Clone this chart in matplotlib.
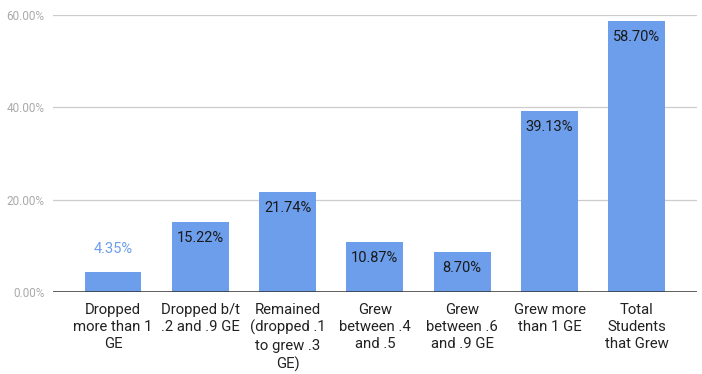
import matplotlib.pyplot as plt
from matplotlib.ticker import FuncFormatter

plt.rcParams['font.family'] = ['Roboto', 'DejaVu Sans']

categories = ["Dropped\nmore than 1\nGE",
              "Dropped b/t\n.2 and .9 GE",
              "Remained\n(dropped .1\nto grew .3\nGE)",
              "Grew\nbetween .4\nand .5",
              "Grew\nbetween .6\nand .9 GE",
              "Grew more\nthan 1 GE",
              "Total\nStudents\nthat Grew"]
values = [4.35, 15.22, 21.74, 10.87, 8.70, 39.13, 58.70]
yticks = [0, 20, 40, 60]

bar_color = '#6d9eeb'

fig = plt.figure(figsize=(7.02, 3.74), dpi=100)
ax = fig.add_axes([0.0755, 0.219, 0.917, 0.741])

x = range(len(values))
bars = ax.bar(x, values, width=0.65, color=bar_color, zorder=3)

for i, v in enumerate(values):
    label = f"{v:.2f}%"
    if v < 8:
        ax.annotate(label, (i, v), xytext=(0, 16.5), textcoords='offset points',
                    ha='center', va='center', fontsize=10.5, color=bar_color, zorder=4)
    else:
        ax.annotate(label, (i, v), xytext=(0, -11.5), textcoords='offset points',
                    ha='center', va='center', fontsize=10.5, color='#1a1a1a', zorder=4)

ax.set_xlim(-0.686, 6.686)
ax.set_ylim(0, 60)
ax.set_yticks(yticks)
ax.yaxis.set_major_formatter(FuncFormatter(lambda v, p: f"{v:.2f}%"))
ax.set_xticks(list(x))
ax.set_xticklabels(categories, fontsize=10.7, color='#222222', linespacing=1.3, va='top')

ax.grid(axis='y', color='#cccccc', linewidth=0.9, zorder=0)
ax.axhline(0, color='#333333', linewidth=1.1, zorder=5)
for s in ax.spines.values():
    s.set_visible(False)
ax.tick_params(axis='both', length=0)
ax.tick_params(axis='y', labelsize=8.5, labelcolor='#aaaaaa', pad=6)
ax.tick_params(axis='x', pad=7.5)

fig.savefig('out.png', dpi=100, facecolor='white')
